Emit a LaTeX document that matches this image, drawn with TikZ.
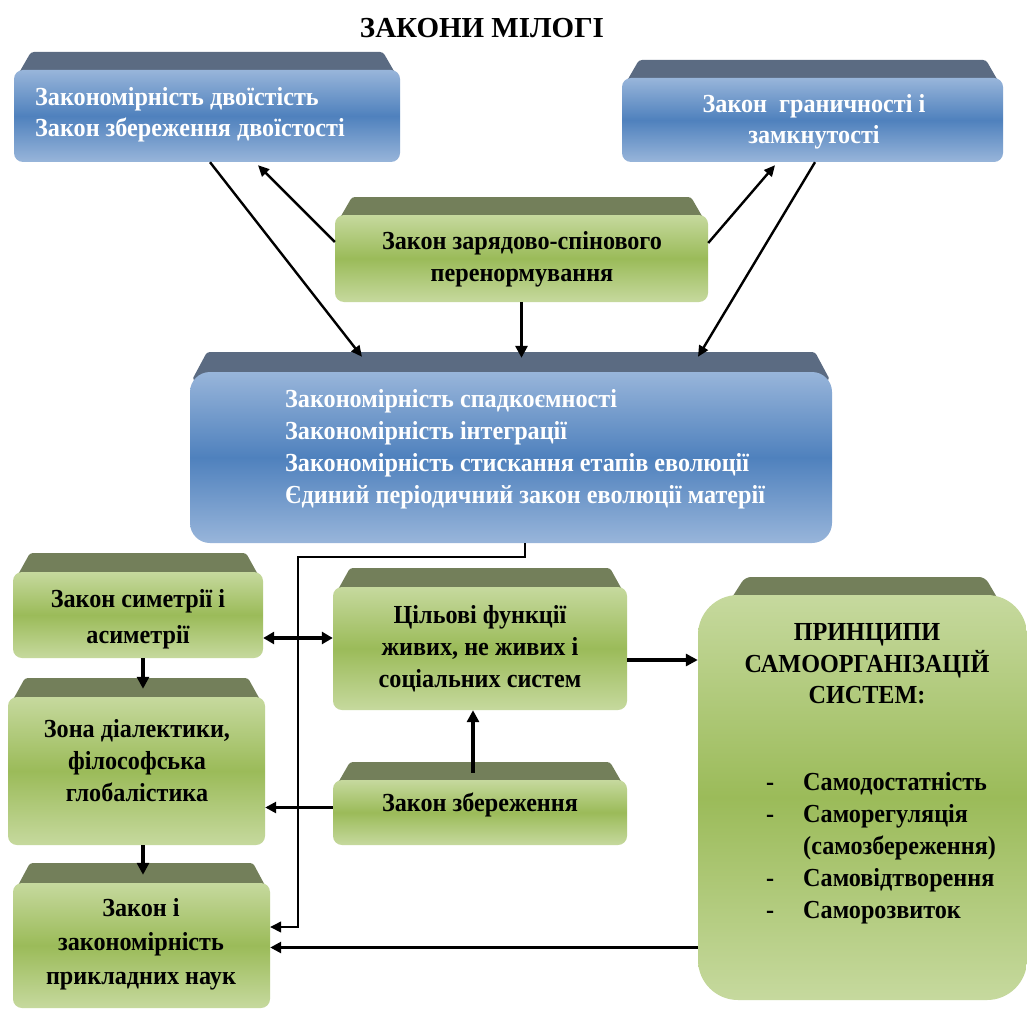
\documentclass[tikz,border=0pt]{standalone}
\usepackage{fontspec}
\setmainfont{Liberation Serif}
\newfontfamily\condf[FakeStretch=0.93]{Liberation Serif}
\usetikzlibrary{arrows.meta,calc}
\definecolor{bL}{HTML}{98B5DA}
\definecolor{bD}{HTML}{4F81BD}
\definecolor{bB}{HTML}{5B6B82}
\definecolor{gL}{HTML}{C6D99E}
\definecolor{gD}{HTML}{9BBB59}
\definecolor{gB}{HTML}{737F5A}
\newcommand\bevel[5]{\fill[#5, rounded corners=3pt] (#1+2,#3+8) -- (#1+17,#2) -- (#4-17,#2) -- (#4-2,#3+8) -- cycle;}
\begin{document}
\begin{tikzpicture}[x=1pt,y=-1pt,
 face/.style={rounded corners=9pt, inner sep=0pt, draw=none},
 bluef/.style={face, top color=bL, bottom color=bL, middle color=bD},
 greenf/.style={face, top color=gL, bottom color=gL, middle color=gD},
 txt/.style={inner sep=0pt, align=center, font=\condf\bfseries\fontsize{26}{32}\selectfont},
 txtw/.style={txt, text=white},
 arr/.style={line width=2.4pt, -{Triangle[length=11pt,width=10pt]}},
 marr/.style={line width=2.6pt, -{Triangle[length=11pt,width=11pt]}},
 tarr/.style={line width=3.6pt, -{Triangle[length=12pt,width=12pt]}},
 darr/.style={line width=3.4pt, {Triangle[length=11pt,width=12pt]}-{Triangle[length=11pt,width=12pt]}},
 thinarr/.style={line width=1.3pt, -{Triangle[length=11pt,width=11pt]}},
]
\useasboundingbox (0,0) rectangle (1027,1011);
\fill[white] (0,0) rectangle (1027,1011);

\node[font=\bfseries\fontsize{29}{32}\selectfont] (title) at (482,28) {ЗАКОНИ МІЛОГІ};

% top-left blue
\bevel{14}{52}{70}{400}{bB}
\node[bluef, minimum width=386pt, minimum height=92pt] (b1) at (207,116) {};
\node[txtw, align=left, anchor=west, font=\condf\bfseries\fontsize{26}{31}\selectfont] (b1t) at (35,115) {Закономірність двоїстість\\Закон збереження двоїстості};

% top-right blue
\bevel{622}{60}{78}{1003}{bB}
\node[bluef, minimum width=381pt, minimum height=84pt] (b2) at (812.5,120) {};
\node[txtw, font=\condf\bfseries\fontsize{26}{31}\selectfont] (b2t) at (814,122) {Закон\ \ граничності і\\замкнутості};

% green charge-spin
\bevel{335}{197}{215}{708}{gB}
\node[greenf, minimum width=373pt, minimum height=87pt] (gz) at (521.5,258.5) {};
\node[txt] (gzt) at (522,259) {Закон зарядово-спінового\\перенормування};

% big blue
\bevel{190}{352}{372}{832}{bB}
\node[bluef, rounded corners=20pt, minimum width=642pt, minimum height=171pt] (big) at (511,457.5) {};
\node[txtw, align=left, anchor=west] (bigt) at (285,449) {Закономірність спадкоємності\\Закономірність інтеграції\\Закономірність стискання етапів еволюції\\Єдиний періодичний закон еволюції матерії};

% left column
\bevel{13}{553}{572}{263}{gB}
\node[greenf, minimum width=250pt, minimum height=86pt] (s1) at (138,615) {};
\node[txt, font=\condf\bfseries\fontsize{26}{36}\selectfont] (s1t) at (138,619) {Закон симетрії і\\асиметрії};

\bevel{8}{678}{697}{265}{gB}
\node[greenf, minimum width=257pt, minimum height=148pt] (z1) at (136.5,771) {};
\node[txt] (z1t) at (137,761) {Зона діалектики,\\філософська\\глобалістика};

\bevel{13}{863}{883}{270}{gB}
\node[greenf, minimum width=257pt, minimum height=125pt] (l1) at (141.5,945.5) {};
\node[txt, font=\condf\bfseries\fontsize{26}{34}\selectfont] (l1t) at (141,944) {Закон і\\закономірність\\прикладних наук};

% middle column
\bevel{333}{568}{587}{627}{gB}
\node[greenf, minimum width=294pt, minimum height=123pt] (c1) at (480,648.5) {};
\node[txt] (c1t) at (480,649) {Цільові функції\\живих, не живих і\\соціальних систем};

\bevel{333}{762}{780}{627}{gB}
\node[greenf, minimum width=294pt, minimum height=65pt] (zb) at (480,812.5) {};
\node[txt] (zbt) at (480,805) {Закон збереження};

% principles
\fill[gB, rounded corners=6pt] (705,640) -- (745,577) -- (985,577) -- (1022,640) -- cycle;
\node[greenf, rounded corners=40pt, minimum width=329pt, minimum height=405pt] (pr) at (862.5,797.5) {};
\node[txt, font=\condf\bfseries\fontsize{26}{31.5}\selectfont] (prt) at (867,664) {ПРИНЦИПИ\\САМООРГАНІЗАЦІЙ\\СИСТЕМ:};
\node[txt, anchor=west, align=left] (pri) at (766,848) {%
\begin{tabular}{@{}p{37pt}@{}l@{}}
- & Самодостатність\\
- & Саморегуляція\\
  & (самозбереження)\\
- & Самовідтворення\\
- & Саморозвиток
\end{tabular}};

% connectors top
\draw[arr] ($(b1.south)+(3,0)$) -- ($(big.north)+(-149,-15)$);
\draw[arr] ($(gz.west)+(0,-16.5)$) -- ($(b1.south)+(51,3)$);
\draw[arr] ($(gz.east)+(0,-15.5)$) -- ($(b2.south)+(-37.5,3)$);
\draw[arr] ($(b2.south)+(2.5,0)$) -- ($(big.north)+(187,-15)$);
\draw[tarr] (gz.south) -- ($(gz.south |- big.north)+(0,-14)$);

% connectors bottom
\coordinate (bend) at (298,557);
\draw[thinarr] ($(big.south)+(14,0)$) |- (bend) |- ($(l1.east)+(0,-18.5)$);
\draw[tarr] ($(s1.south)+(5,0)$) -- ($(s1.south |- z1.north)+(5,-8)$);
\draw[tarr] ($(z1.south)+(6.5,0)$) -- ($(z1.south |- l1.north)+(6.5,-8)$);
\draw[darr] ($(s1.east)+(0,23)$) -- ($(c1.west |- s1.east)+(0,23)$);
\draw[marr] ($(zb.west)+(0,-5)$) -- ($(z1.east |- zb.west)+(0,-5)$);
\draw[tarr] ($(zb.north)+(-7,-7)$) -- ($(zb.north |- c1.south)+(-7,0)$);
\draw[tarr] ($(c1.east)+(0,11.5)$) -- ($(pr.west |- c1.east)+(0,11.5)$);
\draw[marr] ($(pr.west)+(0,150)$) -- ($(l1.east |- pr.west)+(0,150)$);
\end{tikzpicture}
\end{document}
